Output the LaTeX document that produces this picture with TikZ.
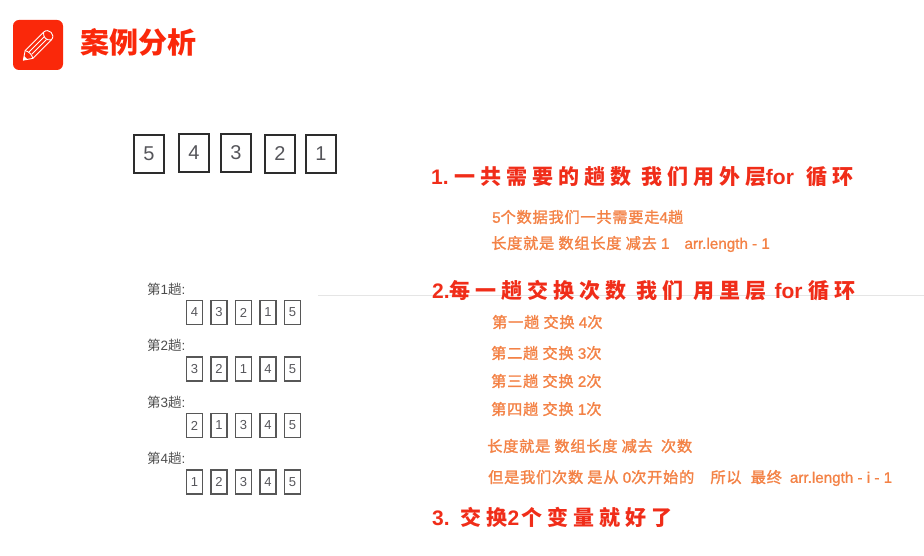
\documentclass[tikz,border=0pt]{standalone}
\usepackage{fontspec}
\setmainfont{Liberation Sans}
\newfontfamily\cjk{Noto Sans CJK SC}
\newfontfamily\cjkwide[LetterSpace=24]{Noto Sans CJK SC}
\newfontfamily\cjknote[LetterSpace=5,FakeBold=1.6]{Noto Sans CJK SC}
\newfontfamily\latnote[FakeBold=1.2]{Liberation Sans}
\definecolor{caseRed}{RGB}{250, 40, 10}
\definecolor{headRed}{RGB}{240, 45, 25}
\definecolor{noteOrange}{RGB}{243, 130, 70}
\definecolor{boxInk}{RGB}{45, 45, 45}
\definecolor{digitInk}{RGB}{85, 85, 90}
\tikzset{
    bigbox/.style={draw=boxInk, line width=2pt, minimum width=30pt, minimum height=38pt, inner sep=0pt,
        text=digitInk, font=\fontsize{20}{20}\selectfont},
    smallbox/.style={draw=boxInk!80, line width=1.3pt, minimum width=16pt, minimum height=24pt, inner sep=0pt,
        text=digitInk, font=\fontsize{13}{13}\selectfont},
    turnlabel/.style={anchor=west, inner sep=0pt, text=black!70, font=\fontsize{13.5}{13.5}\selectfont},
    headtext/.style={anchor=west, inner sep=0pt, text=headRed, font=\fontsize{21}{21}\bfseries\selectfont},
    notetext/.style={anchor=west, inner sep=0pt, text=noteOrange, font=\fontsize{15.2}{16}\latnote}
}
\begin{document}
\begin{tikzpicture}[x=1pt, y=-1pt]
    \useasboundingbox (0, 0) rectangle (924, 556);
    % Title
    \fill[caseRed, rounded corners=6pt] (13, 20) rectangle (63, 70);
    \begin{scope}[shift={(37.5, 46)}, rotate=45, draw=white, line width=0.9pt, line join=round]
        \draw (-12, -5.5) -- (-20, 0) -- (-12, 5.5) -- (14, 5.5) .. controls (21, 5.5) and (21, -5.5) .. (14, -5.5) -- cycle;
        \draw (-12, -5.5) .. controls (-10, -2) and (-10, 2) .. (-12, 5.5);
        \draw (14, -5.5) .. controls (10, -2) and (10, 2) .. (14, 5.5);
        \draw (-10, -1.8) -- (11, -1.8);
        \draw (-10, 1.8) -- (11, 1.8);
        \fill[white] (-20, 0) -- (-16.5, -2.4) -- (-16.5, 2.4) -- cycle;
    \end{scope}
    \node[anchor=west, inner sep=0pt, text=caseRed] (title) at (80, 42)
        {\fontsize{29}{29}\bfseries\cjk 案例分析};
    % Input array
    \node[bigbox] (top5) at (149, 154) {5};
    \node[bigbox] (top4) at (194, 153) {4};
    \node[bigbox] (top3) at (236, 153) {3};
    \node[bigbox] (top2) at (280, 154) {2};
    \node[bigbox] (top1) at (321, 154) {1};
    % Four passes
    \foreach \turn/\ypos/\vals in {1/312.5/{4,3,2,1,5}, 2/369/{3,2,1,4,5}, 3/425.5/{2,1,3,4,5}, 4/482/{1,2,3,4,5}} {
        \node[turnlabel] (turn\turn) at (147, \ypos-23.5) {{\cjk 第}\turn{\cjk 趟}:};
        \foreach \val [count=\i] in \vals {
            \node[smallbox] (cell\turn\i) at (194.5+24.5*\i-24.5, \ypos) {\val};
        }
    }
    % Faint divider
    \draw[black!10, line width=0.7pt] (318, 295.5) -- (924, 295.5);
    % Point 1
    \node[headtext] (head1) at (431, 177)
        {1.\hspace{6pt}{\cjkwide 一共需要的趟数 我们用外层}\hspace{-1pt}for\hspace{7pt} {\cjkwide 循环}};
    \node[notetext] (note1) at (492, 217) {5{\cjknote 个数据我们一共需要走}4{\cjknote 趟}};
    \node[notetext] (note2) at (491, 244) {{\cjknote 长度就是 数组长度 减去} 1\hspace{15pt}arr.length - 1};
    % Point 2
    \node[headtext] (head2) at (432, 291)
        {2.{\cjkwide 每一趟交换次数 我们 用里层}\hspace{2pt} for\hspace{6pt}{\cjkwide 循环}};
    \node[notetext] (note3) at (492, 322) {{\cjknote 第一趟 交换} 4{\cjknote 次}};
    \node[notetext] (note4) at (491, 353) {{\cjknote 第二趟 交换} 3{\cjknote 次}};
    \node[notetext] (note5) at (491, 381) {{\cjknote 第三趟 交换} 2{\cjknote 次}};
    \node[notetext] (note6) at (491, 409) {{\cjknote 第四趟 交换} 1{\cjknote 次}};
    \node[notetext] (note7) at (487, 446) {{\cjknote 长度就是 数组长度 减去\hspace{4pt} 次数}};
    \node[notetext] (note8) at (488, 478)
        {{\cjknote 但是我们次数 是从} 0{\cjknote 次开始的\hspace{12pt} 所以\hspace{5pt} 最终}\hspace{8pt}arr.length - i - 1};
    % Point 3
    \node[headtext] (head3) at (432, 517)
        {3.\hspace{3pt} {\cjkwide 交换}2\hspace{2pt}{\cjkwide 个变量就好了}};
\end{tikzpicture}
\end{document}
